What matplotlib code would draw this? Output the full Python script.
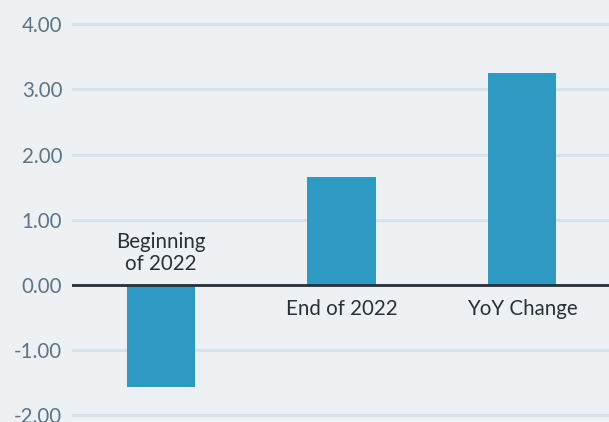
import matplotlib
matplotlib.use("Agg")
import matplotlib.pyplot as plt

categories = ["Beginning\nof 2022", "End of 2022", "YoY Change"]
values = [-1.57, 1.65, 3.25]
yticks = [-2, -1, 0, 1, 2, 3, 4]

bg = "#edf1f3"
bar_color = "#2e9ac3"
grid_color = "#d3e4ec"
tick_color = "#5c7489"
label_color = "#2b3038"

plt.rcParams['font.family'] = ['Lato', 'DejaVu Sans']

fig = plt.figure(figsize=(6.09, 4.22), dpi=100, facecolor=bg)
ax = fig.add_axes([72/609, 0, 1 - 72/609, 1])
ax.set_facecolor(bg)

x = list(range(len(categories)))
ax.bar(x, values, width=0.377, color=bar_color, zorder=3)

ax.set_xlim(-0.493, 2.482)
ax.set_ylim(-2.10, 4.37)
ax.set_yticks(yticks)
ax.set_yticklabels([f"{v:.2f}" for v in yticks])
ax.tick_params(axis='y', length=0, pad=7, labelsize=14.8, labelcolor=tick_color)
ax.set_xticks([])
for s in ax.spines.values():
    s.set_visible(False)
ax.yaxis.grid(True, color=grid_color, linewidth=2.2, zorder=0)
ax.axhline(0, color=label_color, linewidth=2, zorder=4)

for i, (c, v) in enumerate(zip(categories, values)):
    if v < 0:
        ax.annotate(c, xy=(i, 0), xytext=(0, 8), textcoords='offset points',
                    ha='center', va='bottom', fontsize=14.8, color=label_color,
                    linespacing=1.15)
    else:
        ax.annotate(c, xy=(i, 0), xytext=(0, -17), textcoords='offset points',
                    ha='center', va='center', fontsize=14.8, color=label_color)

fig.savefig("out.png", dpi=100, facecolor=bg)
